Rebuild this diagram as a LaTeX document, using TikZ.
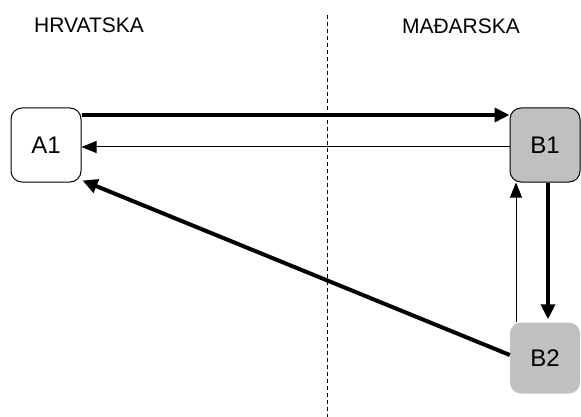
\documentclass[tikz,border=0pt]{standalone}
\usepackage{fontspec}
\setmainfont{Liberation Sans}
\usetikzlibrary{arrows.meta}
\begin{document}
\begin{tikzpicture}[x=1pt,y=-1pt,
  box/.style={rounded corners=11pt, minimum width=70pt, inner sep=0pt, font=\fontsize{24}{24}\selectfont},
  wbox/.style={box, draw, fill=white, line width=1pt},
  gbox/.style={box, draw, fill={rgb,255:red,192;green,192;blue,192}, line width=1pt},
  hbox/.style={box, fill={rgb,255:red,192;green,192;blue,192}},
  lab/.style={font=\fontsize{21}{21}\selectfont, inner sep=0pt},
  thickarr/.style={line width=4pt, -{Triangle[length=15pt,width=14pt]}},
  thinarr/.style={line width=1pt, -{Triangle[length=15pt,width=12pt]}}
]
\useasboundingbox (0,0) rectangle (581,417);
\node[lab] (hr) at (89,25) {HRVATSKA};
\node[lab] (hu) at (461,26) {MAĐARSKA};
\coordinate (dtop) at (327,15);
\coordinate (dbot) at (327,417);
\draw[line width=1pt, dash pattern=on 4pt off 3pt] (dtop) -- (dbot);
\node[wbox, minimum height=74pt] (A1) at (46,145) {A1};
\node[gbox, minimum height=74pt] (B1) at (545,145) {B1};
\node[hbox, minimum height=71pt] (B2) at (545,358) {B2};
\draw[thickarr] ([yshift=30pt]A1.east) -- ([yshift=30pt]B1.west);
\draw[thinarr] ([yshift=-2pt]B1.west) -- ([yshift=-2pt]A1.east);
\draw[thickarr] ([yshift=3pt]B2.west) -- ([xshift=1pt,yshift=2pt]A1.south east);
\draw[thinarr] ([xshift=-29pt]B2.north) -- ([xshift=-29pt]B1.south);
\draw[thickarr] ([xshift=3pt]B1.south) -- ([xshift=3pt,yshift=3pt]B2.north);
\end{tikzpicture}
\end{document}
